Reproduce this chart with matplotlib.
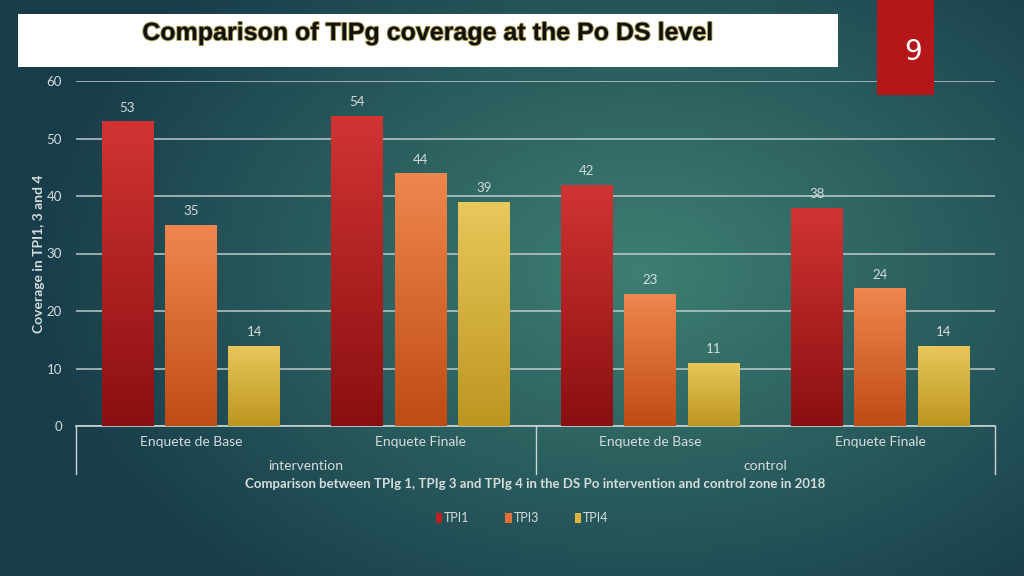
import numpy as np
import matplotlib
matplotlib.use("Agg")
import matplotlib.pyplot as plt
from matplotlib.patches import Rectangle
from matplotlib.colors import LinearSegmentedColormap
import matplotlib.patheffects as pe
from matplotlib.lines import Line2D

# ---- data ----
categories = ["Enquete de Base", "Enquete Finale", "Enquete de Base", "Enquete Finale"]
zones = ["intervention", "control"]
series_names = ["TPI1", "TPI3", "TPI4"]
tpi1 = [53, 54, 42, 38]
tpi3 = [35, 44, 23, 24]
tpi4 = [14, 39, 11, 14]
title = "Comparison of TIPg coverage at the Po DS level"
xlabel = "Comparison between TPIg 1, TPIg 3 and TPIg 4 in the DS Po intervention and control zone in 2018"
ylabel = "Coverage in TPI1, 3 and 4"
yticks = [0, 10, 20, 30, 40, 50, 60]
slide_number = "9"

series = [tpi1, tpi3, tpi4]
top_colors = ["#d23434", "#f0874f", "#e9c75b"]
bot_colors = ["#8a0f10", "#bf4c12", "#bc961f"]
legend_colors = ["#b82222", "#e0703a", "#dcb443"]

plt.rcParams['font.family'] = ['Lato', 'DejaVu Sans']
txt = "#d5dcdc"

fig = plt.figure(figsize=(10.24, 5.76), dpi=100)

# background gradient
bg = fig.add_axes([0, 0, 1, 1], zorder=-10)
H, W = 576, 1024
yy, xx = np.mgrid[0:H, 0:W]
d = np.sqrt(((xx - 640) / 620.0) ** 2 + ((yy - 270) / 420.0) ** 2)
d = np.clip(d, 0, 1)
c_in = np.array([0x3e, 0x7f, 0x72]) / 255.0
c_out = np.array([0x17, 0x3c, 0x4a]) / 255.0
img = c_in[None, None, :] * (1 - d[..., None]) + c_out[None, None, :] * d[..., None]
bg.imshow(img, extent=[0, W, H, 0], aspect='auto')
bg.set_xlim(0, W); bg.set_ylim(H, 0); bg.axis('off')

# main axes
ax = fig.add_axes([76 / 1024, 1 - 426 / 576, 919 / 1024, 345 / 576])
ax.patch.set_alpha(0)
ax.set_xlim(-0.5, 3.5)
ax.set_ylim(0, 60)
ax.set_yticks(yticks)
ax.yaxis.grid(True, color='#c9d4d4', linewidth=1.2, alpha=0.85)
ax.set_axisbelow(True)
for s in ax.spines.values():
    s.set_visible(False)
ax.tick_params(axis='y', length=0, pad=10, labelsize=9.5, labelcolor=txt)
ax.set_xticks([])
ax.set_ylabel(ylabel, color=txt, fontsize=10, fontweight='bold', labelpad=1)

x = np.arange(len(categories))
offsets = [-0.276, 0.0, 0.276]
width = 0.226
for i, vals in enumerate(series):
    bars = ax.bar(x + offsets[i], vals, width, color=legend_colors[i], zorder=2,
                  label=series_names[i])
    cmap = LinearSegmentedColormap.from_list('g%d' % i, [bot_colors[i], top_colors[i]])
    for b, v in zip(bars, vals):
        x0 = b.get_x(); x1 = x0 + b.get_width()
        grad = np.linspace(0, 1, 256).reshape(-1, 1)
        im = ax.imshow(grad, cmap=cmap, origin='lower', extent=[x0, x1, 0, v],
                       aspect='auto', zorder=3)
        im.set_clip_path(b)
        ax.text(b.get_x() + b.get_width() / 2, v + 1.3, str(v), ha='center', va='bottom',
                fontsize=9.5, color=txt, zorder=4)
ax.set_xlim(-0.5, 3.5)
ax.set_ylim(0, 60)

# category axis
trans = ax.get_xaxis_transform()
ax.add_line(Line2D([-0.5, 3.5], [0, 0], transform=trans, color='#c9d4d4', lw=1.2, clip_on=False))
for xv in [-0.5, 1.5, 3.5]:
    ax.add_line(Line2D([xv, xv], [0, -0.139], transform=trans, color='#c9d4d4', lw=1,
                       clip_on=False))
for xi, cat in zip(x, categories):
    ax.text(xi, -0.045, cat, transform=trans, ha='center', va='center', fontsize=10,
            color=txt)
for zi, z in enumerate(zones):
    ax.text(0.5 + 2 * zi, -0.116, z, transform=trans, ha='center', va='center',
            fontsize=10, color=txt)
ax.text(1.5, -0.168, xlabel, transform=trans, ha='center', va='center', fontsize=9.5,
        color=txt, fontweight='bold')

handles = [Rectangle((0, 0), 1, 1, facecolor=c) for c in legend_colors]
leg = fig.legend(handles, series_names, loc='center', bbox_to_anchor=(0.51, 1 - 518 / 576),
                 ncol=3, frameon=False, fontsize=9, handlelength=0.5, handleheight=0.9,
                 handletextpad=0.15, columnspacing=2.9)
for t in leg.get_texts():
    t.set_color(txt)

# overlay: title box and slide number
ov = fig.add_axes([0, 0, 1, 1], zorder=10)
ov.set_xlim(0, W); ov.set_ylim(H, 0); ov.axis('off')
ov.patch.set_alpha(0)
ov.add_patch(Rectangle((18, 14), 820, 53, facecolor='white', edgecolor='none'))
ov.text(428, 33, title, ha='center', va='center', fontsize=18, fontweight='bold',
        family=['Liberation Sans', 'DejaVu Sans'], color='#111111',
        path_effects=[pe.withStroke(linewidth=1.3, foreground='#a89a4a')])
ov.add_patch(Rectangle((877, 0), 57, 95, facecolor='#b5161a', edgecolor='none'))
ov.text(913, 52, slide_number, ha='center', va='center', fontsize=20, color='white',
        family=['DejaVu Sans'])

fig.savefig("out.png", dpi=100)
